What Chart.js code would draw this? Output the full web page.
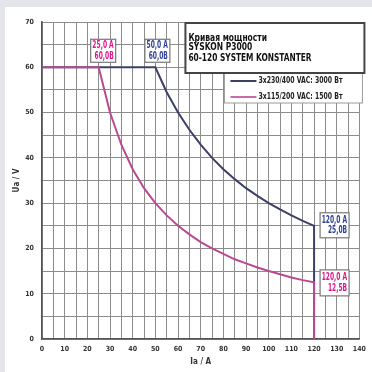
<!DOCTYPE html>
<html lang="ru">

<head>
  <meta charset="UTF-8">
  <script src="https://cdn.jsdelivr.net/npm/chart.js"></script>
  <title>Кривая мощности SYSKON P3000</title>
  <style>
    body {
      margin: 0;
      padding: 0;
      background-color: #e4e5ea;
      width: 372px;
      height: 372px;
      overflow: hidden;
    }

    #panel {
      position: absolute;
      left: 5px;
      top: 7px;
      width: 367px;
      height: 365px;
      background-color: #fff;
    }
  </style>
</head>

<body>
  <div id="panel">
    <canvas id="powerChart" width="367" height="365"></canvas>
  </div>

  <script>
    // 3x230/400 VAC, 3000 W
    const highCurrent = [0, 50, 55, 60, 65, 70, 75, 80, 85, 90, 95, 100, 105, 110, 115, 120, 120];
    const highVoltage = [60, 60, 54.5, 50, 46.2, 42.9, 40, 37.5, 35.3, 33.3, 31.6, 30, 28.6, 27.3, 26.1, 25, 0];

    // 3x115/200 VAC, 1500 W
    const lowCurrent = [0, 25, 30, 35, 40, 45, 50, 55, 60, 65, 70, 75, 80, 85, 90, 95, 100, 105, 110, 115, 120, 120];
    const lowVoltage = [60, 60, 50, 42.9, 37.5, 33.3, 30, 27.3, 25, 23.1, 21.4, 20, 18.8, 17.6, 16.7, 15.8, 15, 14.3, 13.6, 13, 12.5, 0];

    const seriesNames = ['3x230/400 VAC: 3000 Вт', '3x115/200 VAC: 1500 Вт'];
    const titleLines = ['Кривая мощности', 'SYSKON P3000', '60-120 SYSTEM KONSTANTER'];

    // corner points with their labels
    const markers = [
      { x: 25, y: 60, lines: ['25,0 A', '60,0B'], color: '#e0168a', dx: -8, dy: -28, w: 25, h: 23 },
      { x: 50, y: 60, lines: ['50,0 A', '60,0B'], color: '#2b3f96', dx: -10.5, dy: -28, w: 25, h: 23 },
      { x: 120, y: 25, lines: ['120,0 A', '25,0B'], color: '#2b3f96', dx: 6, dy: -13, w: 29, h: 25 },
      { x: 120, y: 12.5, lines: ['120,0 A', '12,5B'], color: '#e0168a', dx: 6, dy: -12.5, w: 29, h: 26 }
    ];

    const blueColor = '#3c4066';
    const pinkColor = '#b94a92';
    const font = '"Liberation Sans Narrow", "DejaVu Sans Condensed", "Liberation Sans", sans-serif';

    function toPoints(xs, ys) {
      return xs.map((x, i) => ({ x: x, y: ys[i] }));
    }

    // squeeze text horizontally to look like the condensed face of the original
    function narrowText(ctx, text, x, y, sx) {
      ctx.save();
      ctx.translate(x, y);
      ctx.scale(sx, 1);
      ctx.fillText(text, 0, 0);
      ctx.restore();
    }

    const overlayPlugin = {
      id: 'overlay',
      afterDraw(chart) {
        const ctx = chart.ctx;
        const area = chart.chartArea;
        const xs = chart.scales.x;
        const ys = chart.scales.y;
        ctx.save();

        // point labels
        ctx.font = 'bold 10px ' + font;
        ctx.textAlign = 'right';
        ctx.textBaseline = 'middle';
        markers.forEach(m => {
          const bx = xs.getPixelForValue(m.x) + m.dx;
          const by = ys.getPixelForValue(m.y) + m.dy;
          ctx.fillStyle = '#fff';
          ctx.fillRect(bx, by, m.w, m.h);
          ctx.strokeStyle = '#777';
          ctx.lineWidth = 1.2;
          ctx.strokeRect(bx, by, m.w, m.h);
          ctx.fillStyle = m.color;
          narrowText(ctx, m.lines[0], bx + m.w - 2, by + m.h / 2 - 5, 0.66);
          narrowText(ctx, m.lines[1], bx + m.w - 2, by + m.h / 2 + 5.5, 0.66);
        });

        // legend box
        const lx = area.right - 135, ly = area.top + 50;
        ctx.fillStyle = '#fff';
        ctx.fillRect(lx, ly, 138, 31);
        ctx.strokeStyle = '#9a9a9a';
        ctx.lineWidth = 1;
        ctx.strokeRect(lx, ly, 138, 31);
        ctx.textAlign = 'left';
        ctx.font = 'bold 9px ' + font;
        [blueColor, '#c86aad'].forEach((c, i) => {
          const y = ly + 9 + i * 16;
          ctx.strokeStyle = c;
          ctx.lineWidth = 2;
          ctx.beginPath();
          ctx.moveTo(lx + 6, y);
          ctx.lineTo(lx + 32, y);
          ctx.stroke();
          ctx.fillStyle = '#222';
          narrowText(ctx, seriesNames[i], lx + 34, y, 0.76);
        });

        // title box
        const tx = area.right - 174, ty = area.top + 1;
        ctx.fillStyle = '#fff';
        ctx.fillRect(tx, ty, 179, 50);
        ctx.strokeStyle = '#444';
        ctx.lineWidth = 2;
        ctx.strokeRect(tx, ty, 179, 50);
        ctx.fillStyle = '#111';
        ctx.font = 'bold 10.5px ' + font;
        narrowText(ctx, titleLines[0], tx + 3, ty + 15, 0.8);
        narrowText(ctx, titleLines[1], tx + 3, ty + 24, 0.8);
        ctx.font = 'bold 11px ' + font;
        narrowText(ctx, titleLines[2], tx + 3, ty + 35, 0.75);

        ctx.restore();
      }
    };

    const tickFont = { family: font, size: 7, weight: 'bold' };

    new Chart(document.getElementById('powerChart').getContext('2d'), {
      type: 'line',
      data: {
        datasets: [{
          label: seriesNames[0],
          data: toPoints(highCurrent, highVoltage),
          borderColor: blueColor,
          borderWidth: 2,
          pointRadius: 0,
          order: 2
        }, {
          label: seriesNames[1],
          data: toPoints(lowCurrent, lowVoltage),
          borderColor: pinkColor,
          borderWidth: 2,
          pointRadius: 0,
          order: 1
        }]
      },
      options: {
        responsive: false,
        animation: false,
        layout: {
          padding: { top: 15, right: 11, left: 0, bottom: 0 }
        },
        plugins: {
          legend: { display: false },
          tooltip: { enabled: false }
        },
        scales: {
          x: {
            type: 'linear',
            min: 0,
            max: 140,
            afterFit(scale) { scale.height = 33; },
            ticks: {
              stepSize: 5,
              autoSkip: false,
              maxRotation: 0,
              padding: 6,
              color: '#333',
              font: tickFont,
              callback: v => (v % 10 === 0 ? v : '')
            },
            grid: { color: '#8c8c8c', lineWidth: 1, drawTicks: false },
            border: { color: '#555', width: 1.5 },
            title: {
              display: true,
              text: 'Ia / A',
              color: '#333',
              font: { family: font, size: 8, weight: 'bold' },
              padding: { top: 2, bottom: 5 }
            }
          },
          y: {
            min: 0,
            max: 70,
            afterFit(scale) { scale.width = 37; },
            ticks: {
              stepSize: 5,
              autoSkip: false,
              padding: 8,
              color: '#333',
              font: tickFont,
              callback: v => (v % 10 === 0 ? v : '')
            },
            grid: { color: '#8c8c8c', lineWidth: 1, drawTicks: false },
            border: { color: '#555', width: 1.5 },
            title: {
              display: true,
              text: 'Ua / V',
              color: '#333',
              font: { family: font, size: 8, weight: 'bold' },
              padding: { top: 7, bottom: 2 }
            }
          }
        }
      },
      plugins: [overlayPlugin]
    });
  </script>
</body>

</html>
